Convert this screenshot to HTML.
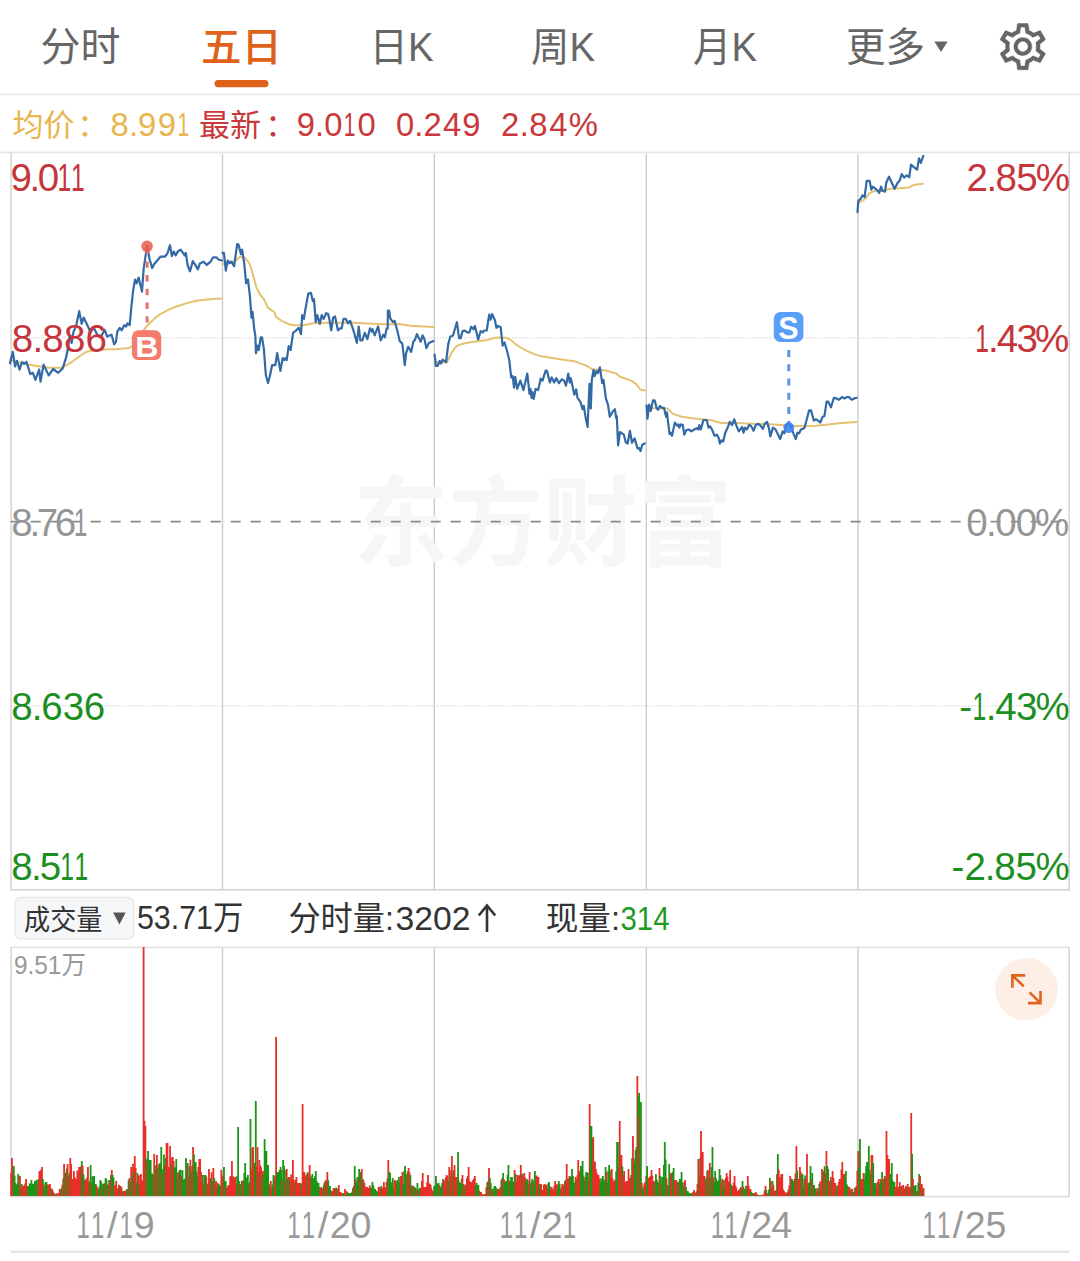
<!DOCTYPE html>
<html lang="zh-CN"><head><meta charset="utf-8"><title>五日</title>
<style>html,body{margin:0;padding:0;background:#fff}body{width:1080px;height:1261px;overflow:hidden}svg{display:block}</style></head>
<body>
<svg width="1080" height="1261" viewBox="0 0 1080 1261" font-family='"Liberation Sans", "Noto Sans CJK SC", sans-serif'>
<rect width="1080" height="1261" fill="#fff"/>
<text x="40.5" y="61" font-size="40" fill="#666" textLength="80" lengthAdjust="spacingAndGlyphs">分时</text>
<text x="201" y="61" font-size="40" fill="#e0621a" font-weight="500" textLength="81" lengthAdjust="spacingAndGlyphs">五日</text>
<text x="369.5" y="61" font-size="40" fill="#666" textLength="64" lengthAdjust="spacingAndGlyphs">日K</text>
<text x="531" y="61" font-size="40" fill="#666" textLength="64" lengthAdjust="spacingAndGlyphs">周K</text>
<text x="693" y="61" font-size="40" fill="#666" textLength="64" lengthAdjust="spacingAndGlyphs">月K</text>
<text x="846" y="61" font-size="40" fill="#666" textLength="79" lengthAdjust="spacingAndGlyphs">更多</text>
<path d="M934.3 41.5h13.4l-6.7 10.5z" fill="#666"/>
<rect x="214.5" y="80" width="54" height="7.2" rx="3.6" fill="#e0621a"/>
<path transform="translate(994.36,18.16) scale(2.37)" d="M19.43 12.98c.04-.32.07-.64.07-.98 0-.34-.03-.66-.07-.98l2.11-1.65c.19-.15.24-.42.12-.64l-2-3.46c-.09-.16-.26-.25-.44-.25-.06 0-.12.01-.17.03l-2.49 1c-.52-.4-1.08-.73-1.69-.98l-.38-2.650C14.46 2.180 14.25 2 14 2h-4c-.25 0-.46.18-.49.42l-.38 2.650c-.61.25-1.170.59-1.690.98l-2.490-1c-.06-.02-.12-.03-.18-.03-.17 0-.34.09-.43.25l-2 3.460c-.13.22-.07.49.12.64l2.110 1.650c-.04.32-.07.65-.07.98 0 .33.03.66.07.98l-2.110 1.650c-.19.15-.24.42-.12.64l2 3.460c.09.16.26.25.44.25.06 0 .12-.01.17-.03l2.490-1c.52.4 1.080.73 1.690.98l.38 2.650c.03.24.24.42.49.42h4c.25 0 .46-.18.49-.42l.38-2.650c.61-.25 1.170-.59 1.690-.98l2.490 1c.06.02.12.03.18.03.17 0 .34-.09.43-.25l2-3.460c.12-.22.07-.49-.12-.64l-2.110-1.650zm-1.980-1.710c.04.31.05.52.05.73 0 .21-.02.43-.05.73l-.14 1.130.89.7 1.080.84-.7 1.210-1.270-.51-1.040-.42-.9.68c-.43.32-.84.56-1.250.73l-1.060.43-.16 1.130-.2 1.350h-1.400l-.19-1.350-.16-1.130-1.060-.43c-.43-.18-.83-.41-1.230-.71l-.91-.7-1.060.43-1.270.51-.7-1.210 1.080-.84.89-.7-.14-1.130c-.03-.31-.05-.54-.05-.74s.02-.43.05-.73l.14-1.130-.89-.7-1.080-.84.7-1.210 1.270.51 1.040.42.9-.68c.43-.32.84-.56 1.250-.73l1.060-.43.16-1.130.2-1.350h1.390l.19 1.350.16 1.130 1.060.43c.43.18.83.41 1.230.71l.91.7 1.060-.43 1.270-.51.7 1.210-1.070.85-.89.7.14 1.130zM12 8c-2.210 0-4 1.790-4 4s1.790 4 4 4 4-1.790 4-4-1.790-4-4-4zm0 6c-1.100 0-2-.9-2-2s.9-2 2-2 2 .9 2 2-.9 2-2 2z" fill="#666" stroke="#fff" stroke-width="0.28"/>
<rect x="0" y="93.6" width="1080" height="1.6" fill="#e6e8ea"/>
<text x="12.5" y="135.5" font-size="31" fill="#e8b54e">均价</text>
<text x="77.3" y="135.5" font-size="31" fill="#e8b54e">：</text>
<text y="135.5" font-size="32.8" fill="#e8b54e"><tspan x="110.5 128.9 138.1 157.7">8.99</tspan><tspan x="177.4" textLength="11.7" lengthAdjust="spacingAndGlyphs">1</tspan></text>
<text x="199" y="135.5" font-size="31" fill="#c9383a">最新</text>
<text x="265.3" y="135.5" font-size="31" fill="#c9383a">：</text>
<text y="135.5" font-size="32.8" fill="#c9383a"><tspan x="296.8 315.1 324.3">9.0</tspan><tspan x="343.8" textLength="11.7" lengthAdjust="spacingAndGlyphs">1</tspan><tspan x="357.4">0</tspan></text>
<text y="135.5" font-size="32.8" fill="#c9383a"><tspan x="396.0 414.3 423.4 443.0 462.3">0.249</tspan></text>
<text y="135.5" font-size="32.8" fill="#c9383a"><tspan x="501.1 519.7 529.2 549.2 568.7">2.84%</tspan></text>
<rect x="0" y="151.7" width="1080" height="1.6" fill="#e3e4e6"/>
<rect x="10.299999999999999" y="889.0" width="1059.7" height="1.6" fill="#d4d4d4"/>
<rect x="10.30" y="152.5" width="1.6" height="737.3" fill="#d6d6d6"/>
<rect x="1068.40" y="152.5" width="1.6" height="737.3" fill="#d6d6d6"/>
<rect x="221.80" y="153.8" width="1.4" height="736.0" fill="#cbcbcb"/>
<rect x="433.60" y="153.8" width="1.4" height="736.0" fill="#cbcbcb"/>
<rect x="645.60" y="153.8" width="1.4" height="736.0" fill="#cbcbcb"/>
<rect x="857.30" y="153.8" width="1.4" height="736.0" fill="#cbcbcb"/>
<text x="353.5" y="558" font-size="98" font-weight="700" fill="#f6f6f6" textLength="379" lengthAdjust="spacingAndGlyphs" >东方财富</text>
<line x1="11.1" y1="337.8" x2="1069.2" y2="337.8" stroke="#d8d8d8" stroke-width="1.2" stroke-dasharray="1.3 1.7"/>
<line x1="11.1" y1="705.8" x2="1069.2" y2="705.8" stroke="#d8d8d8" stroke-width="1.2" stroke-dasharray="1.3 1.7"/>
<line x1="10.7" y1="521.6" x2="1069.2" y2="521.6" stroke="#8a8a8a" stroke-width="1.9" stroke-dasharray="10 10"/>
<polyline points="10.0,360.0 15.0,361.5 25.0,364.0 35.4,365.8 48.0,367.7 60.8,367.7 67.0,365.0 73.5,360.8 80.0,356.0 86.2,351.9 92.0,350.6 98.9,350.0 108.0,349.3 116.0,349.3 128.7,348.1 132.0,346.0 135.0,343.0 138.0,338.0 141.4,332.8 144.5,329.0 147.7,325.2 154.1,318.9 160.0,314.3 166.8,310.6 173.0,307.8 179.5,305.5 186.0,303.4 192.2,301.7 198.0,300.6 204.9,299.8 213.0,299.1 222.0,298.6" fill="none" stroke="#e6c171" stroke-width="2" stroke-linejoin="round" stroke-linecap="round"/>
<polyline points="222.6,264.0 229.0,263.5 236.0,260.5 239.8,256.7 244.9,257.9 249.3,263.0 252.5,273.2 256.3,287.1 260.1,294.7 263.9,299.2 267.7,307.4 274.7,312.5 276.0,317.0 281.7,320.8 288.0,323.9 294.4,325.2 303.2,325.2 313.4,323.3 328.0,322.7 353.4,322.7 383.9,324.2 399.1,323.9 410.5,325.8 433.4,327.1" fill="none" stroke="#e6c171" stroke-width="2" stroke-linejoin="round" stroke-linecap="round"/>
<polyline points="434.6,362.0 440.0,362.8 446.7,362.2 449.0,358.0 451.8,352.1 455.0,348.0 458.1,345.1 465.0,343.2 472.1,341.9 480.0,340.9 487.3,340.0 492.0,338.6 497.5,337.5 506.4,337.7 511.0,340.2 515.2,343.8 520.0,347.0 525.4,350.1 530.0,352.4 535.6,354.6 540.0,355.9 555.2,358.4 575.5,361.6 585.7,365.4 592.0,369.2 606.0,370.5 616.2,373.6 620.0,376.8 631.4,380.6 636.5,384.4 640.3,389.5 644.7,390.4" fill="none" stroke="#e6c171" stroke-width="2" stroke-linejoin="round" stroke-linecap="round"/>
<polyline points="646.6,407.0 651.1,407.9 667.6,408.5 672.7,413.6 681.5,416.8 696.8,418.7 709.5,420.0 722.2,423.1 734.9,423.1 752.0,423.8 771.0,424.2 790.1,425.7 802.8,426.3 815.5,425.7 828.2,424.4 840.9,423.1 856.7,421.9" fill="none" stroke="#e6c171" stroke-width="2" stroke-linejoin="round" stroke-linecap="round"/>
<polyline points="858.3,203.3 861.0,201.5 865.0,199.2 869.2,193.3 873.3,191.3 883.3,190.8 890.0,188.8 900.0,188.3 909.2,187.5 912.5,185.4 917.0,184.5 922.9,183.8" fill="none" stroke="#e6c171" stroke-width="2" stroke-linejoin="round" stroke-linecap="round"/>
<polyline points="10.0,363.3 12.8,351.9 15.1,366.5 17.0,360.8 19.5,369.6 22.0,362.0 24.0,363.9 26.5,362.0 30.3,374.1 32.9,372.8 35.4,379.8 39.2,369.6 40.5,381.7 43.6,364.6 48.7,375.4 53.2,369.0 58.2,372.8 62.7,368.4 65.9,358.2 67.8,349.3 69.7,335.4 71.6,343.0 73.5,331.6 76.0,326.5 79.2,311.2 81.7,323.9 83.6,317.6 86.2,322.7 90.6,332.2 93.8,327.8 97.6,335.4 101.4,336.0 104.6,329.7 107.1,336.6 111.6,334.7 114.1,344.3 116.0,341.7 117.3,331.6 119.8,327.8 121.7,330.3 124.3,325.2 126.2,326.5 127.4,323.3 129.7,325.2 131.2,308.7 133.1,290.9 135.0,279.5 136.6,283.3 138.6,277.6 142.0,291.6 143.7,268.1 147.1,245.9 149.6,259.2 152.2,268.1 154.1,264.3 157.9,259.8 160.4,256.7 164.9,256.7 167.4,253.5 170.0,245.2 171.9,256.0 173.8,251.6 175.7,255.4 178.2,250.9 180.7,249.7 184.6,255.4 185.8,252.9 187.7,265.5 190.0,271.3 192.8,261.1 195.3,264.9 197.9,269.4 199.8,263.6 203.6,261.7 206.8,264.9 210.6,261.7 213.1,257.3 216.3,257.3 218.8,259.8 222.0,260.5" fill="none" stroke="#336aa6" stroke-width="2.2" stroke-linejoin="round" stroke-linecap="round"/>
<polyline points="222.6,252.9 223.9,252.9 225.8,270.6 227.7,260.5 229.6,263.0 231.5,261.7 234.1,266.2 237.2,244.0 238.5,244.6 241.0,254.1 242.1,249.7 244.2,263.0 246.1,283.3 248.0,279.5 249.9,296.0 251.5,317.6 252.5,311.9 254.4,330.3 255.3,335.4 256.0,353.1 257.5,345.5 258.8,350.0 260.7,337.3 262.0,337.3 263.9,349.3 265.8,374.7 268.0,383.0 269.6,377.3 272.1,365.2 275.3,365.2 277.2,353.1 280.4,370.9 282.7,358.2 284.2,360.1 285.5,358.2 286.7,360.1 288.7,346.2 290.6,350.0 293.1,332.8 295.6,330.9 298.8,327.8 301.0,334.1 302.2,315.1 303.9,318.9 305.2,310.6 308.3,293.5 310.9,292.8 312.8,301.1 314.0,299.2 315.7,322.0 317.2,315.1 319.8,323.9 321.7,315.1 323.6,318.9 326.1,313.2 328.0,313.8 329.3,318.9 331.2,330.3 333.1,317.6 335.0,316.3 337.9,330.3 340.1,328.4 341.7,328.4 343.5,318.9 345.8,318.9 348.1,323.3 350.2,320.8 353.4,330.3 356.9,343.0 358.7,326.5 360.4,340.4 362.3,340.4 364.8,332.8 367.4,339.2 369.9,328.4 371.8,331.6 372.4,329.0 374.7,335.4 378.1,326.5 380.7,340.4 383.2,334.7 384.9,337.3 386.7,328.4 387.7,328.4 387.9,310.6 389.2,310.6 390.2,318.2 392.7,322.0 394.6,320.8 397.2,330.3 399.7,341.1 402.3,343.6 404.8,365.2 406.1,353.1 408.2,346.8 411.2,351.9 413.3,341.7 415.0,339.8 416.9,334.1 420.7,341.7 422.6,335.4 424.5,339.2 426.4,348.1 428.9,343.0 433.4,341.1" fill="none" stroke="#336aa6" stroke-width="2.2" stroke-linejoin="round" stroke-linecap="round"/>
<polyline points="434.6,354.6 435.9,366.0 437.6,366.0 439.7,360.9 441.0,363.5 442.6,359.7 446.1,362.2 448.2,344.4 450.2,336.8 453.0,335.5 456.9,322.2 459.1,338.1 460.7,338.1 462.6,331.1 464.5,330.5 467.3,332.4 469.5,332.4 471.1,326.7 473.4,329.2 474.9,326.0 478.2,339.4 480.7,331.1 482.9,332.4 484.1,330.5 486.7,330.5 489.2,314.6 490.5,319.7 492.1,314.0 494.9,320.3 496.5,327.9 498.1,326.0 500.7,327.3 502.6,345.7 504.5,342.5 507.0,350.8 509.2,359.7 511.2,377.4 512.7,376.2 514.0,387.6 515.2,376.8 517.2,388.9 520.3,380.6 523.5,390.1 527.3,373.6 529.5,393.9 530.5,388.9 531.5,397.8 532.4,392.0 533.7,399.0 535.6,388.9 538.1,390.1 540.0,382.0 540.6,378.7 542.5,380.6 545.7,370.5 547.0,371.1 549.9,382.5 551.7,377.4 554.2,382.5 556.2,378.1 559.0,383.2 561.8,379.3 564.1,380.6 566.0,385.7 568.2,373.6 569.8,382.5 570.7,378.1 572.8,387.6 574.3,394.6 576.2,389.5 577.5,397.8 580.6,402.2 582.5,409.2 583.8,406.0 585.7,418.1 587.6,427.0 589.5,383.8 590.8,408.5 591.8,380.0 593.6,369.8 594.6,376.2 596.5,371.1 597.8,373.0 599.9,367.3 602.2,383.2 603.5,380.0 606.0,399.0 607.9,404.1 609.8,416.8 612.6,411.7 614.9,409.2 616.2,418.1 616.8,416.2 618.1,445.4 620.0,432.0 623.8,434.6 625.7,442.2 627.6,443.5 629.9,430.8 632.0,442.8 634.6,438.4 637.5,448.5 639.0,447.9 640.5,451.1 642.2,444.7 644.7,443.5" fill="none" stroke="#336aa6" stroke-width="2.2" stroke-linejoin="round" stroke-linecap="round"/>
<polyline points="646.6,405.4 647.5,418.7 649.2,404.7 650.8,411.1 653.0,400.3 654.6,400.3 656.8,408.5 658.1,409.8 660.0,406.0 662.2,407.9 664.0,407.9 666.1,416.8 666.9,412.4 669.5,433.9 670.8,432.7 672.0,435.8 674.9,422.5 677.1,425.7 678.4,424.4 679.3,427.6 680.9,424.4 682.8,425.0 684.3,434.6 686.4,430.1 688.9,429.5 691.4,431.4 694.2,429.5 696.8,428.2 698.3,429.5 699.3,425.0 700.8,429.5 703.4,420.0 706.7,420.0 708.5,427.6 710.1,426.3 712.0,429.5 714.6,435.8 716.8,434.6 718.6,437.7 719.9,443.5 721.5,440.3 723.2,441.6 725.3,432.7 727.9,427.0 729.8,421.9 732.1,425.0 734.2,419.3 736.4,425.7 738.9,431.4 741.2,428.2 742.2,427.0 743.5,432.7 745.0,427.6 746.9,429.5 749.1,425.0 750.7,425.7 752.0,427.6 753.5,430.8 755.8,425.0 758.1,423.8 760.6,425.7 762.8,428.9 764.7,423.8 767.0,421.9 768.8,427.6 770.4,436.5 772.9,427.6 775.5,429.5 778.0,434.6 780.2,439.0 782.7,431.4 784.4,433.3 786.5,425.0 788.8,422.5 791.4,428.2 793.9,434.6 795.8,439.0 797.4,432.7 799.2,433.3 800.9,429.5 804.3,428.2 806.6,420.0 809.1,410.4 811.0,410.4 813.9,420.6 816.1,419.3 818.0,420.6 820.3,422.5 822.5,416.8 824.4,416.2 826.6,401.6 828.2,401.6 831.0,407.3 833.9,397.8 836.4,398.4 839.0,399.7 842.1,397.1 844.7,398.4 846.6,397.1 849.1,397.1 851.7,399.7 854.2,398.4 856.7,397.8" fill="none" stroke="#336aa6" stroke-width="2.2" stroke-linejoin="round" stroke-linecap="round"/>
<polyline points="857.5,212.1 858.3,200.8 860.4,199.2 862.5,195.4 864.6,197.1 866.7,180.8 869.6,180.8 871.3,189.6 872.5,186.7 875.0,188.3 877.1,190.0 879.2,192.9 881.0,186.7 882.5,190.8 885.0,191.7 886.3,182.5 889.0,176.7 891.7,182.5 894.6,188.8 897.5,182.9 899.6,180.8 901.7,174.2 904.2,177.5 906.7,175.4 909.3,177.1 911.0,164.6 913.8,167.1 917.1,169.6 919.0,158.3 920.8,162.9 923.3,155.8" fill="none" stroke="#336aa6" stroke-width="2.2" stroke-linejoin="round" stroke-linecap="round"/>
<line x1="147.1" y1="247.7" x2="147.1" y2="331" stroke="#e2736b" stroke-width="3" stroke-dasharray="6.4 7.3"/>
<circle cx="147.1" cy="246.3" r="5.8" fill="#ef5a4e" fill-opacity="0.85"/>
<rect x="131.9" y="330.3" width="29.3" height="29.8" rx="6.5" fill="#f47c6c"/>
<text x="135.2" y="356.9" font-size="29.5" font-weight="700" fill="#fff" textLength="23.2" lengthAdjust="spacingAndGlyphs">B</text>
<line x1="788.8" y1="350.1" x2="788.8" y2="423" stroke="#5b95e6" stroke-width="3" stroke-dasharray="7 7.2"/>
<circle cx="788.8" cy="427.6" r="5.4" fill="#3c84ee" fill-opacity="0.9"/>
<rect x="773.8" y="312.1" width="29.6" height="29.8" rx="6.5" fill="#5a9ff7"/>
<text x="778.3" y="339" font-size="30.5" font-weight="700" fill="#fff" textLength="20.4" lengthAdjust="spacingAndGlyphs">S</text>
<text y="191.2" font-size="38.5" fill="#c5353a"><tspan x="10.6 29.5 37.7">9.0</tspan><tspan x="57.6" textLength="13.7" lengthAdjust="spacingAndGlyphs">1</tspan><tspan x="71.1" textLength="13.7" lengthAdjust="spacingAndGlyphs">1</tspan></text>
<text y="352" font-size="38.5" fill="#c5353a"><tspan x="11.7 32.4 42.3 63.9 85.5">8.886</tspan></text>
<text y="536" font-size="38.5" fill="#959595"><tspan x="11.3 29.4 36.8 54.7">8.76</tspan><tspan x="73.7" textLength="13.7" lengthAdjust="spacingAndGlyphs">1</tspan></text>
<text y="720" font-size="38.5" fill="#1d8f22"><tspan x="11.3 31.7 41.2 62.7 83.8">8.636</tspan></text>
<text y="879.8" font-size="38.5" fill="#1d8f22"><tspan x="11.3 30.9 39.7">8.5</tspan><tspan x="60.3" textLength="13.7" lengthAdjust="spacingAndGlyphs">1</tspan><tspan x="74.4" textLength="13.7" lengthAdjust="spacingAndGlyphs">1</tspan></text>
<text y="191.2" font-size="38.5" fill="#c5353a"><tspan x="966.6 986.5 995.6 1016.3 1035.7">2.85%</tspan></text>
<text y="351.6" font-size="38.5" fill="#c5353a"><tspan x="975.2" textLength="13.7" lengthAdjust="spacingAndGlyphs">1</tspan><tspan x="988.0 996.8 1016.6 1034.9">.43%</tspan></text>
<text y="536.1" font-size="38.5" fill="#959595"><tspan x="966.3 986.1 995.2 1015.7 1034.9">0.00%</tspan></text>
<text y="720.1" font-size="38.5" fill="#1d8f22"><tspan x="959.2">-</tspan><tspan x="972.5" textLength="13.7" lengthAdjust="spacingAndGlyphs">1</tspan><tspan x="985.8 995.2 1016.0 1035.4">.43%</tspan></text>
<text y="879.9" font-size="38.5" fill="#1d8f22"><tspan x="951.4 964.6 984.8 994.3 1015.5 1035.4">-2.85%</tspan></text>
<rect x="14.9" y="897.3" width="118.7" height="41.7" rx="6" fill="#f6f7f9" stroke="#e4e6ea" stroke-width="1.2"/>
<text x="24" y="929.7" font-size="28" fill="#333" textLength="78.5" lengthAdjust="spacingAndGlyphs">成交量</text>
<path d="M113.1 912.5h12.6l-6.3 12z" fill="#555"/>
<text x="136.9" y="929.0" font-size="32.5" fill="#333" textLength="106.5" lengthAdjust="spacingAndGlyphs">53.71万</text>
<text x="288.4" y="930.0" font-size="32.5" fill="#333" textLength="105.5" lengthAdjust="spacingAndGlyphs">分时量:</text>
<text x="395.5" y="930.0" font-size="32.5" fill="#333" textLength="75" lengthAdjust="spacingAndGlyphs">3202</text>
<path d="M487 905.5V932M478.8 915.5L487 905.5L495.2 915.5" fill="none" stroke="#333" stroke-width="2.6" stroke-linejoin="miter"/>
<text x="545.7" y="930.0" font-size="32.5" fill="#333" textLength="74.3" lengthAdjust="spacingAndGlyphs">现量:</text>
<text x="620.5" y="930.0" font-size="32.5" fill="#1f9a22" textLength="49" lengthAdjust="spacingAndGlyphs">314</text>
<rect x="11.1" y="946.6" width="1058.1000000000001" height="1.6" fill="#e0e0e0"/>
<rect x="11.1" y="1195.8" width="1058.1000000000001" height="1.6" fill="#dcdcdc"/>
<rect x="10.30" y="947.4" width="1.6" height="249.2" fill="#d6d6d6"/>
<rect x="1068.40" y="947.4" width="1.6" height="249.2" fill="#d6d6d6"/>
<rect x="221.80" y="948.1999999999999" width="1.4" height="248.4" fill="#cbcbcb"/>
<rect x="433.60" y="948.1999999999999" width="1.4" height="248.4" fill="#cbcbcb"/>
<rect x="645.60" y="948.1999999999999" width="1.4" height="248.4" fill="#cbcbcb"/>
<rect x="857.30" y="948.1999999999999" width="1.4" height="248.4" fill="#cbcbcb"/>
<text x="13.9" y="974.2" font-size="26" fill="#999" textLength="72" lengthAdjust="spacingAndGlyphs">9.51万</text>
<defs><filter id="bl" x="-1%" y="-1%" width="102%" height="102%"><feGaussianBlur stdDeviation="0.55 0.3"/></filter></defs>
<g fill="none" stroke-width="1.8" filter="url(#bl)">
<path d="M11.10 1196.0v-23.3M11.98 1196.0v-38.0M12.87 1196.0v-26.8" stroke="#e82e28"/>
<path d="M13.75 1196.0v-30.0M14.63 1196.0v-20.6M15.52 1196.0v-12.9M16.40 1196.0v-11.8M17.28 1196.0v-11.4M18.17 1196.0v-22.0M19.05 1196.0v-13.9" stroke="#1e9416"/>
<path d="M19.93 1196.0v-20.0M20.82 1196.0v-9.2" stroke="#e82e28"/>
<path d="M21.70 1196.0v-12.0" stroke="#1e9416"/>
<path d="M22.58 1196.0v-10.0M23.47 1196.0v-10.6M24.35 1196.0v-10.0M25.23 1196.0v-12.6M26.12 1196.0v-17.0M27.00 1196.0v-8.8" stroke="#e82e28"/>
<path d="M27.88 1196.0v-10.0M28.77 1196.0v-8.9M29.65 1196.0v-12.5M30.53 1196.0v-11.6M31.42 1196.0v-16.0M32.30 1196.0v-7.5M33.18 1196.0v-12.2M34.07 1196.0v-9.2M34.95 1196.0v-15.0M35.83 1196.0v-11.6M36.72 1196.0v-16.3" stroke="#1e9416"/>
<path d="M37.60 1196.0v-12.3" stroke="#e82e28"/>
<path d="M38.48 1196.0v-16.9" stroke="#1e9416"/>
<path d="M39.37 1196.0v-25.0M40.25 1196.0v-21.7M41.13 1196.0v-26.2M42.02 1196.0v-29.0" stroke="#e82e28"/>
<path d="M42.90 1196.0v-16.9" stroke="#1e9416"/>
<path d="M43.78 1196.0v-11.7" stroke="#e82e28"/>
<path d="M44.67 1196.0v-8.9M45.55 1196.0v-14.0M46.43 1196.0v-14.0M47.32 1196.0v-11.1" stroke="#1e9416"/>
<path d="M48.20 1196.0v-11.5M49.08 1196.0v-9.9M49.97 1196.0v-12.0M50.85 1196.0v-7.6" stroke="#e82e28"/>
<path d="M51.73 1196.0v-7.4" stroke="#1e9416"/>
<path d="M52.62 1196.0v-6.0M53.50 1196.0v-3.7" stroke="#e82e28"/>
<path d="M54.38 1196.0v-2.0M55.27 1196.0v-2.3" stroke="#1e9416"/>
<path d="M56.15 1196.0v-2.0M57.03 1196.0v-2.8M57.92 1196.0v-2.8M58.80 1196.0v-2.5M59.68 1196.0v-7.0M60.57 1196.0v-5.6" stroke="#e82e28"/>
<path d="M61.45 1196.0v-7.7" stroke="#1e9416"/>
<path d="M62.33 1196.0v-11.1" stroke="#e82e28"/>
<path d="M63.22 1196.0v-17.5" stroke="#1e9416"/>
<path d="M64.10 1196.0v-32.0M64.98 1196.0v-15.7" stroke="#e82e28"/>
<path d="M65.87 1196.0v-23.2M66.75 1196.0v-27.5" stroke="#1e9416"/>
<path d="M67.63 1196.0v-32.0M68.52 1196.0v-19.8" stroke="#e82e28"/>
<path d="M69.40 1196.0v-22.8" stroke="#1e9416"/>
<path d="M70.28 1196.0v-38.0M71.17 1196.0v-31.8M72.05 1196.0v-16.9M72.93 1196.0v-16.1M73.82 1196.0v-25.0M74.70 1196.0v-19.0M75.58 1196.0v-11.9M76.47 1196.0v-17.1M77.35 1196.0v-25.6M78.23 1196.0v-20.1M79.12 1196.0v-29.0M80.00 1196.0v-24.4M80.88 1196.0v-29.5" stroke="#e82e28"/>
<path d="M81.77 1196.0v-35.0" stroke="#1e9416"/>
<path d="M82.65 1196.0v-30.5" stroke="#e82e28"/>
<path d="M83.53 1196.0v-21.6M84.42 1196.0v-16.3" stroke="#1e9416"/>
<path d="M85.30 1196.0v-15.3M86.18 1196.0v-17.1M87.07 1196.0v-18.6M87.95 1196.0v-29.0M88.83 1196.0v-13.3" stroke="#e82e28"/>
<path d="M89.72 1196.0v-15.1M90.60 1196.0v-31.0" stroke="#1e9416"/>
<path d="M91.48 1196.0v-13.5" stroke="#e82e28"/>
<path d="M92.37 1196.0v-19.7M93.25 1196.0v-13.1M94.13 1196.0v-20.0M95.02 1196.0v-10.5M95.90 1196.0v-12.0" stroke="#1e9416"/>
<path d="M96.78 1196.0v-10.0M97.67 1196.0v-7.7" stroke="#e82e28"/>
<path d="M98.55 1196.0v-6.5M99.43 1196.0v-9.2M100.32 1196.0v-16.0M101.20 1196.0v-14.2" stroke="#1e9416"/>
<path d="M102.08 1196.0v-7.7" stroke="#e82e28"/>
<path d="M102.97 1196.0v-12.1M103.85 1196.0v-12.5" stroke="#1e9416"/>
<path d="M104.73 1196.0v-12.6" stroke="#e82e28"/>
<path d="M105.62 1196.0v-18.0M106.50 1196.0v-16.5M107.38 1196.0v-11.5" stroke="#1e9416"/>
<path d="M108.27 1196.0v-11.2" stroke="#e82e28"/>
<path d="M109.15 1196.0v-15.9" stroke="#1e9416"/>
<path d="M110.03 1196.0v-14.4" stroke="#e82e28"/>
<path d="M110.92 1196.0v-21.0" stroke="#1e9416"/>
<path d="M111.80 1196.0v-26.0" stroke="#e82e28"/>
<path d="M112.68 1196.0v-21.1M113.57 1196.0v-18.6" stroke="#1e9416"/>
<path d="M114.45 1196.0v-10.9M115.33 1196.0v-10.6M116.22 1196.0v-15.0M117.10 1196.0v-6.4M117.98 1196.0v-7.5M118.87 1196.0v-11.3" stroke="#e82e28"/>
<path d="M119.75 1196.0v-10.3" stroke="#1e9416"/>
<path d="M120.63 1196.0v-10.0M121.52 1196.0v-8.8M122.40 1196.0v-4.8M123.28 1196.0v-4.2" stroke="#e82e28"/>
<path d="M124.17 1196.0v-5.2" stroke="#1e9416"/>
<path d="M125.05 1196.0v-5.2M125.93 1196.0v-5.0" stroke="#e82e28"/>
<path d="M126.82 1196.0v-6.9" stroke="#1e9416"/>
<path d="M127.70 1196.0v-6.5" stroke="#e82e28"/>
<path d="M128.58 1196.0v-15.7" stroke="#1e9416"/>
<path d="M129.47 1196.0v-17.9" stroke="#e82e28"/>
<path d="M130.35 1196.0v-14.0" stroke="#1e9416"/>
<path d="M131.23 1196.0v-29.0" stroke="#e82e28"/>
<path d="M132.12 1196.0v-19.8" stroke="#1e9416"/>
<path d="M133.00 1196.0v-32.3" stroke="#e82e28"/>
<path d="M133.88 1196.0v-24.0" stroke="#1e9416"/>
<path d="M134.77 1196.0v-40.0M135.65 1196.0v-28.0" stroke="#e82e28"/>
<path d="M136.53 1196.0v-13.8M137.42 1196.0v-23.0" stroke="#1e9416"/>
<path d="M138.30 1196.0v-20.5" stroke="#e82e28"/>
<path d="M139.18 1196.0v-11.7" stroke="#1e9416"/>
<path d="M140.07 1196.0v-20.9M140.95 1196.0v-22.0M141.83 1196.0v-15.8M142.72 1196.0v-13.0M143.60 1196.0v-249.0M144.48 1196.0v-75.3M145.37 1196.0v-70.0" stroke="#e82e28"/>
<path d="M146.25 1196.0v-36.9" stroke="#1e9416"/>
<path d="M147.13 1196.0v-34.5" stroke="#e82e28"/>
<path d="M148.02 1196.0v-45.0M148.90 1196.0v-36.2M149.78 1196.0v-22.7M150.67 1196.0v-36.0M151.55 1196.0v-21.2M152.43 1196.0v-22.5M153.32 1196.0v-20.9" stroke="#1e9416"/>
<path d="M154.20 1196.0v-42.0M155.08 1196.0v-26.1" stroke="#e82e28"/>
<path d="M155.97 1196.0v-30.7" stroke="#1e9416"/>
<path d="M156.85 1196.0v-41.0" stroke="#e82e28"/>
<path d="M157.73 1196.0v-28.0" stroke="#1e9416"/>
<path d="M158.62 1196.0v-31.0" stroke="#e82e28"/>
<path d="M159.50 1196.0v-32.7M160.38 1196.0v-32.0M161.27 1196.0v-49.0" stroke="#1e9416"/>
<path d="M162.15 1196.0v-22.5" stroke="#e82e28"/>
<path d="M163.03 1196.0v-27.0M163.92 1196.0v-41.4" stroke="#1e9416"/>
<path d="M164.80 1196.0v-31.6" stroke="#e82e28"/>
<path d="M165.68 1196.0v-37.9" stroke="#1e9416"/>
<path d="M166.57 1196.0v-53.0M167.45 1196.0v-53.0M168.33 1196.0v-26.0M169.22 1196.0v-29.2M170.10 1196.0v-50.0M170.98 1196.0v-38.8" stroke="#e82e28"/>
<path d="M171.87 1196.0v-31.5" stroke="#1e9416"/>
<path d="M172.75 1196.0v-39.0M173.63 1196.0v-35.0" stroke="#e82e28"/>
<path d="M174.52 1196.0v-28.7M175.40 1196.0v-26.4M176.28 1196.0v-37.0M177.17 1196.0v-23.3" stroke="#1e9416"/>
<path d="M178.05 1196.0v-22.4M178.93 1196.0v-24.4" stroke="#e82e28"/>
<path d="M179.82 1196.0v-26.3M180.70 1196.0v-26.0" stroke="#1e9416"/>
<path d="M181.58 1196.0v-20.0" stroke="#e82e28"/>
<path d="M182.47 1196.0v-25.7M183.35 1196.0v-16.2M184.23 1196.0v-16.4M185.12 1196.0v-17.5M186.00 1196.0v-38.0" stroke="#1e9416"/>
<path d="M186.88 1196.0v-30.1" stroke="#e82e28"/>
<path d="M187.77 1196.0v-33.0" stroke="#1e9416"/>
<path d="M188.65 1196.0v-18.5" stroke="#e82e28"/>
<path d="M189.53 1196.0v-29.6" stroke="#1e9416"/>
<path d="M190.42 1196.0v-36.3" stroke="#e82e28"/>
<path d="M191.30 1196.0v-24.4" stroke="#1e9416"/>
<path d="M192.18 1196.0v-30.1M193.07 1196.0v-49.0" stroke="#e82e28"/>
<path d="M193.95 1196.0v-41.8M194.83 1196.0v-21.1M195.72 1196.0v-34.0M196.60 1196.0v-24.4M197.48 1196.0v-19.3" stroke="#1e9416"/>
<path d="M198.37 1196.0v-29.1M199.25 1196.0v-37.0M200.13 1196.0v-37.0M201.02 1196.0v-24.0M201.90 1196.0v-13.9" stroke="#e82e28"/>
<path d="M202.78 1196.0v-21.1" stroke="#1e9416"/>
<path d="M203.67 1196.0v-12.1" stroke="#e82e28"/>
<path d="M204.55 1196.0v-21.0M205.43 1196.0v-21.0" stroke="#1e9416"/>
<path d="M206.32 1196.0v-19.4M207.20 1196.0v-12.2" stroke="#e82e28"/>
<path d="M208.08 1196.0v-12.0" stroke="#1e9416"/>
<path d="M208.97 1196.0v-27.0M209.85 1196.0v-15.9" stroke="#e82e28"/>
<path d="M210.73 1196.0v-18.1" stroke="#1e9416"/>
<path d="M211.62 1196.0v-23.8" stroke="#e82e28"/>
<path d="M212.50 1196.0v-14.6" stroke="#1e9416"/>
<path d="M213.38 1196.0v-28.0" stroke="#e82e28"/>
<path d="M214.27 1196.0v-17.8" stroke="#1e9416"/>
<path d="M215.15 1196.0v-10.7M216.03 1196.0v-15.0" stroke="#e82e28"/>
<path d="M216.92 1196.0v-7.9" stroke="#1e9416"/>
<path d="M217.80 1196.0v-13.0" stroke="#e82e28"/>
<path d="M218.68 1196.0v-11.9M219.57 1196.0v-9.2M220.45 1196.0v-10.6" stroke="#1e9416"/>
<path d="M221.33 1196.0v-26.0M222.22 1196.0v-18.1M223.10 1196.0v-20.3" stroke="#e82e28"/>
<path d="M223.98 1196.0v-29.0M224.87 1196.0v-14.7M225.75 1196.0v-15.1" stroke="#1e9416"/>
<path d="M226.63 1196.0v-8.7M227.52 1196.0v-6.3M228.40 1196.0v-11.0M229.28 1196.0v-11.1M230.17 1196.0v-19.4M231.05 1196.0v-19.9M231.93 1196.0v-35.0M232.82 1196.0v-19.8M233.70 1196.0v-15.7M234.58 1196.0v-18.5M235.47 1196.0v-19.0M236.35 1196.0v-11.9" stroke="#e82e28"/>
<path d="M237.23 1196.0v-20.0M238.12 1196.0v-69.0M239.00 1196.0v-14.8" stroke="#1e9416"/>
<path d="M239.88 1196.0v-12.0" stroke="#e82e28"/>
<path d="M240.77 1196.0v-11.2M241.65 1196.0v-15.0" stroke="#1e9416"/>
<path d="M242.53 1196.0v-15.6M243.42 1196.0v-15.0" stroke="#e82e28"/>
<path d="M244.30 1196.0v-22.9M245.18 1196.0v-33.0M246.07 1196.0v-18.6M246.95 1196.0v-11.4M247.83 1196.0v-21.0" stroke="#1e9416"/>
<path d="M248.72 1196.0v-11.7" stroke="#e82e28"/>
<path d="M249.60 1196.0v-14.0M250.48 1196.0v-77.0" stroke="#1e9416"/>
<path d="M251.37 1196.0v-27.2M252.25 1196.0v-48.0M253.13 1196.0v-48.9M254.02 1196.0v-32.6" stroke="#e82e28"/>
<path d="M254.90 1196.0v-32.9M255.78 1196.0v-95.0" stroke="#1e9416"/>
<path d="M256.67 1196.0v-29.8M257.55 1196.0v-49.0" stroke="#e82e28"/>
<path d="M258.43 1196.0v-24.2" stroke="#1e9416"/>
<path d="M259.32 1196.0v-36.0M260.20 1196.0v-30.8M261.08 1196.0v-29.0" stroke="#e82e28"/>
<path d="M261.97 1196.0v-19.6" stroke="#1e9416"/>
<path d="M262.85 1196.0v-25.0" stroke="#e82e28"/>
<path d="M263.73 1196.0v-21.8M264.62 1196.0v-57.0M265.50 1196.0v-36.3M266.38 1196.0v-45.0M267.27 1196.0v-22.0M268.15 1196.0v-31.0M269.03 1196.0v-11.7" stroke="#1e9416"/>
<path d="M269.92 1196.0v-10.4M270.80 1196.0v-15.0M271.68 1196.0v-7.9" stroke="#e82e28"/>
<path d="M272.57 1196.0v-11.4M273.45 1196.0v-21.0M274.33 1196.0v-17.9" stroke="#1e9416"/>
<path d="M275.22 1196.0v-19.9M276.10 1196.0v-159.0" stroke="#e82e28"/>
<path d="M276.98 1196.0v-22.3M277.87 1196.0v-24.0M278.75 1196.0v-16.5M279.63 1196.0v-26.0M280.52 1196.0v-29.0M281.40 1196.0v-25.9" stroke="#1e9416"/>
<path d="M282.28 1196.0v-16.1" stroke="#e82e28"/>
<path d="M283.17 1196.0v-36.0M284.05 1196.0v-30.0M284.93 1196.0v-25.7" stroke="#1e9416"/>
<path d="M285.82 1196.0v-15.2M286.70 1196.0v-27.0" stroke="#e82e28"/>
<path d="M287.58 1196.0v-17.4M288.47 1196.0v-19.1" stroke="#1e9416"/>
<path d="M289.35 1196.0v-19.0" stroke="#e82e28"/>
<path d="M290.23 1196.0v-16.3" stroke="#1e9416"/>
<path d="M291.12 1196.0v-21.4M292.00 1196.0v-18.1M292.88 1196.0v-36.0M293.77 1196.0v-15.9" stroke="#e82e28"/>
<path d="M294.65 1196.0v-13.3" stroke="#1e9416"/>
<path d="M295.53 1196.0v-16.2M296.42 1196.0v-19.0M297.30 1196.0v-13.0M298.18 1196.0v-10.7M299.07 1196.0v-13.0M299.95 1196.0v-13.0" stroke="#e82e28"/>
<path d="M300.83 1196.0v-12.7" stroke="#1e9416"/>
<path d="M301.72 1196.0v-10.5M302.60 1196.0v-92.0M303.48 1196.0v-21.5M304.37 1196.0v-24.0M305.25 1196.0v-20.5M306.13 1196.0v-12.8M307.02 1196.0v-22.5" stroke="#e82e28"/>
<path d="M307.90 1196.0v-23.7" stroke="#1e9416"/>
<path d="M308.78 1196.0v-21.0M309.67 1196.0v-31.0M310.55 1196.0v-18.5" stroke="#e82e28"/>
<path d="M311.43 1196.0v-19.7M312.32 1196.0v-22.0M313.20 1196.0v-17.7M314.08 1196.0v-12.4M314.97 1196.0v-20.0M315.85 1196.0v-25.0M316.73 1196.0v-14.9M317.62 1196.0v-7.6M318.50 1196.0v-13.0M319.38 1196.0v-8.9" stroke="#1e9416"/>
<path d="M320.27 1196.0v-8.0M321.15 1196.0v-9.0M322.03 1196.0v-7.2M322.92 1196.0v-7.7" stroke="#e82e28"/>
<path d="M323.80 1196.0v-11.2M324.68 1196.0v-14.0" stroke="#1e9416"/>
<path d="M325.57 1196.0v-15.8M326.45 1196.0v-9.7M327.33 1196.0v-24.0" stroke="#e82e28"/>
<path d="M328.22 1196.0v-15.8M329.10 1196.0v-9.6M329.98 1196.0v-10.0" stroke="#1e9416"/>
<path d="M330.87 1196.0v-5.3" stroke="#e82e28"/>
<path d="M331.75 1196.0v-5.1" stroke="#1e9416"/>
<path d="M332.63 1196.0v-4.5M333.52 1196.0v-8.0M334.40 1196.0v-7.7M335.28 1196.0v-7.7" stroke="#e82e28"/>
<path d="M336.17 1196.0v-8.5M337.05 1196.0v-5.7" stroke="#1e9416"/>
<path d="M337.93 1196.0v-7.4M338.82 1196.0v-11.0M339.70 1196.0v-3.5M340.58 1196.0v-3.9M341.47 1196.0v-3.0M342.35 1196.0v-2.0" stroke="#e82e28"/>
<path d="M343.23 1196.0v-3.1M344.12 1196.0v-2.8" stroke="#1e9416"/>
<path d="M345.00 1196.0v-7.0M345.88 1196.0v-5.0M346.77 1196.0v-4.5" stroke="#e82e28"/>
<path d="M347.65 1196.0v-3.6M348.53 1196.0v-3.0M349.42 1196.0v-1.9M350.30 1196.0v-2.8M351.18 1196.0v-3.0M352.07 1196.0v-4.2M352.95 1196.0v-7.9" stroke="#1e9416"/>
<path d="M353.83 1196.0v-10.1" stroke="#e82e28"/>
<path d="M354.72 1196.0v-30.0" stroke="#1e9416"/>
<path d="M355.60 1196.0v-16.4" stroke="#e82e28"/>
<path d="M356.48 1196.0v-13.6M357.37 1196.0v-19.0M358.25 1196.0v-15.6M359.13 1196.0v-27.0" stroke="#1e9416"/>
<path d="M360.02 1196.0v-17.2" stroke="#e82e28"/>
<path d="M360.90 1196.0v-24.1" stroke="#1e9416"/>
<path d="M361.78 1196.0v-27.0" stroke="#e82e28"/>
<path d="M362.67 1196.0v-17.0" stroke="#1e9416"/>
<path d="M363.55 1196.0v-15.8M364.43 1196.0v-13.0M365.32 1196.0v-9.4M366.20 1196.0v-8.5M367.08 1196.0v-9.0M367.97 1196.0v-8.0M368.85 1196.0v-6.3M369.73 1196.0v-10.5" stroke="#e82e28"/>
<path d="M370.62 1196.0v-8.5" stroke="#1e9416"/>
<path d="M371.50 1196.0v-8.0" stroke="#e82e28"/>
<path d="M372.38 1196.0v-14.0M373.27 1196.0v-10.7M374.15 1196.0v-7.2M375.03 1196.0v-7.0M375.92 1196.0v-5.4M376.80 1196.0v-4.2M377.68 1196.0v-4.6" stroke="#1e9416"/>
<path d="M378.57 1196.0v-9.0M379.45 1196.0v-9.0M380.33 1196.0v-7.2" stroke="#e82e28"/>
<path d="M381.22 1196.0v-10.1" stroke="#1e9416"/>
<path d="M382.10 1196.0v-8.2M382.98 1196.0v-7.1M383.87 1196.0v-14.0M384.75 1196.0v-8.7M385.63 1196.0v-8.0M386.52 1196.0v-14.0" stroke="#e82e28"/>
<path d="M387.40 1196.0v-17.6" stroke="#1e9416"/>
<path d="M388.28 1196.0v-36.0" stroke="#e82e28"/>
<path d="M389.17 1196.0v-24.2M390.05 1196.0v-23.0M390.93 1196.0v-13.7M391.82 1196.0v-12.2M392.70 1196.0v-18.0M393.58 1196.0v-8.2" stroke="#1e9416"/>
<path d="M394.47 1196.0v-16.0M395.35 1196.0v-15.3M396.23 1196.0v-12.0" stroke="#e82e28"/>
<path d="M397.12 1196.0v-15.7M398.00 1196.0v-10.8M398.88 1196.0v-19.0M399.77 1196.0v-13.2" stroke="#1e9416"/>
<path d="M400.65 1196.0v-19.9M401.53 1196.0v-20.1M402.42 1196.0v-24.0" stroke="#e82e28"/>
<path d="M403.30 1196.0v-12.0M404.18 1196.0v-25.1M405.07 1196.0v-30.0M405.95 1196.0v-21.9" stroke="#1e9416"/>
<path d="M406.83 1196.0v-18.8" stroke="#e82e28"/>
<path d="M407.72 1196.0v-24.7" stroke="#1e9416"/>
<path d="M408.60 1196.0v-28.0M409.48 1196.0v-23.8" stroke="#e82e28"/>
<path d="M410.37 1196.0v-21.0M411.25 1196.0v-9.2" stroke="#1e9416"/>
<path d="M412.13 1196.0v-10.5M413.02 1196.0v-10.0" stroke="#e82e28"/>
<path d="M413.90 1196.0v-9.6M414.78 1196.0v-8.6M415.67 1196.0v-8.0" stroke="#1e9416"/>
<path d="M416.55 1196.0v-5.8" stroke="#e82e28"/>
<path d="M417.43 1196.0v-13.0" stroke="#1e9416"/>
<path d="M418.32 1196.0v-5.6" stroke="#e82e28"/>
<path d="M419.20 1196.0v-7.0M420.08 1196.0v-8.3" stroke="#1e9416"/>
<path d="M420.97 1196.0v-7.8M421.85 1196.0v-14.9M422.73 1196.0v-23.0M423.62 1196.0v-8.9M424.50 1196.0v-9.1M425.38 1196.0v-9.0M426.27 1196.0v-9.1M427.15 1196.0v-13.8M428.03 1196.0v-21.0M428.92 1196.0v-10.0M429.80 1196.0v-12.5M430.68 1196.0v-11.0M431.57 1196.0v-7.5M432.45 1196.0v-3.6M433.33 1196.0v-5.0" stroke="#e82e28"/>
<path d="M434.22 1196.0v-10.3M435.10 1196.0v-9.4M435.98 1196.0v-20.0M436.87 1196.0v-12.5M437.75 1196.0v-10.4M438.63 1196.0v-13.0" stroke="#1e9416"/>
<path d="M439.52 1196.0v-10.7" stroke="#e82e28"/>
<path d="M440.40 1196.0v-8.2M441.28 1196.0v-9.6M442.17 1196.0v-12.9M443.05 1196.0v-17.0" stroke="#1e9416"/>
<path d="M443.93 1196.0v-15.4M444.82 1196.0v-13.4M445.70 1196.0v-18.6M446.58 1196.0v-21.0M447.47 1196.0v-19.9" stroke="#e82e28"/>
<path d="M448.35 1196.0v-14.6" stroke="#1e9416"/>
<path d="M449.23 1196.0v-29.0" stroke="#e82e28"/>
<path d="M450.12 1196.0v-19.6" stroke="#1e9416"/>
<path d="M451.00 1196.0v-25.7M451.88 1196.0v-40.0M452.77 1196.0v-20.3" stroke="#e82e28"/>
<path d="M453.65 1196.0v-25.8" stroke="#1e9416"/>
<path d="M454.53 1196.0v-31.0M455.42 1196.0v-12.0M456.30 1196.0v-19.0M457.18 1196.0v-18.8" stroke="#e82e28"/>
<path d="M458.07 1196.0v-44.0M458.95 1196.0v-14.8M459.83 1196.0v-13.0M460.72 1196.0v-7.7M461.60 1196.0v-17.2" stroke="#1e9416"/>
<path d="M462.48 1196.0v-21.0" stroke="#e82e28"/>
<path d="M463.37 1196.0v-11.7" stroke="#1e9416"/>
<path d="M464.25 1196.0v-9.0M465.13 1196.0v-11.6" stroke="#e82e28"/>
<path d="M466.02 1196.0v-9.3" stroke="#1e9416"/>
<path d="M466.90 1196.0v-17.7M467.78 1196.0v-20.3M468.67 1196.0v-29.0M469.55 1196.0v-14.7M470.43 1196.0v-9.9M471.32 1196.0v-14.0M472.20 1196.0v-9.2M473.08 1196.0v-16.0M473.97 1196.0v-17.6M474.85 1196.0v-20.0" stroke="#e82e28"/>
<path d="M475.73 1196.0v-10.8M476.62 1196.0v-12.9M477.50 1196.0v-6.1M478.38 1196.0v-11.0" stroke="#1e9416"/>
<path d="M479.27 1196.0v-5.4" stroke="#e82e28"/>
<path d="M480.15 1196.0v-3.6" stroke="#1e9416"/>
<path d="M481.03 1196.0v-4.0M481.92 1196.0v-2.0" stroke="#e82e28"/>
<path d="M482.80 1196.0v-1.3" stroke="#1e9416"/>
<path d="M483.68 1196.0v-1.7M484.57 1196.0v-0.9M485.45 1196.0v-2.0M486.33 1196.0v-8.7" stroke="#e82e28"/>
<path d="M487.22 1196.0v-13.8" stroke="#1e9416"/>
<path d="M488.10 1196.0v-14.8M488.98 1196.0v-28.0" stroke="#e82e28"/>
<path d="M489.87 1196.0v-18.3M490.75 1196.0v-13.0" stroke="#1e9416"/>
<path d="M491.63 1196.0v-7.2" stroke="#e82e28"/>
<path d="M492.52 1196.0v-7.2" stroke="#1e9416"/>
<path d="M493.40 1196.0v-5.0" stroke="#e82e28"/>
<path d="M494.28 1196.0v-9.5M495.17 1196.0v-10.0M496.05 1196.0v-8.4" stroke="#1e9416"/>
<path d="M496.93 1196.0v-4.8" stroke="#e82e28"/>
<path d="M497.82 1196.0v-7.2" stroke="#1e9416"/>
<path d="M498.70 1196.0v-7.0M499.58 1196.0v-6.6M500.47 1196.0v-9.2" stroke="#e82e28"/>
<path d="M501.35 1196.0v-16.0" stroke="#1e9416"/>
<path d="M502.23 1196.0v-17.9" stroke="#e82e28"/>
<path d="M503.12 1196.0v-23.0" stroke="#1e9416"/>
<path d="M504.00 1196.0v-16.8" stroke="#e82e28"/>
<path d="M504.88 1196.0v-12.9M505.77 1196.0v-15.0M506.65 1196.0v-12.3M507.53 1196.0v-21.1M508.42 1196.0v-31.0" stroke="#1e9416"/>
<path d="M509.30 1196.0v-15.4" stroke="#e82e28"/>
<path d="M510.18 1196.0v-14.0M511.07 1196.0v-19.0M511.95 1196.0v-19.0M512.83 1196.0v-10.2M513.72 1196.0v-14.4" stroke="#1e9416"/>
<path d="M514.60 1196.0v-26.0" stroke="#e82e28"/>
<path d="M515.48 1196.0v-22.1" stroke="#1e9416"/>
<path d="M516.37 1196.0v-13.4M517.25 1196.0v-21.0M518.13 1196.0v-11.5M519.02 1196.0v-20.7M519.90 1196.0v-16.1M520.78 1196.0v-31.0M521.67 1196.0v-22.1" stroke="#e82e28"/>
<path d="M522.55 1196.0v-22.2" stroke="#1e9416"/>
<path d="M523.43 1196.0v-19.5M524.32 1196.0v-23.0M525.20 1196.0v-18.4" stroke="#e82e28"/>
<path d="M526.08 1196.0v-14.2M526.97 1196.0v-17.0M527.85 1196.0v-15.4" stroke="#1e9416"/>
<path d="M528.73 1196.0v-12.1M529.62 1196.0v-24.0" stroke="#e82e28"/>
<path d="M530.50 1196.0v-11.6M531.38 1196.0v-14.3M532.27 1196.0v-17.0" stroke="#1e9416"/>
<path d="M533.15 1196.0v-12.8" stroke="#e82e28"/>
<path d="M534.03 1196.0v-15.8M534.92 1196.0v-25.0M535.80 1196.0v-19.9" stroke="#1e9416"/>
<path d="M536.68 1196.0v-20.4M537.57 1196.0v-19.0M538.45 1196.0v-19.0" stroke="#e82e28"/>
<path d="M539.33 1196.0v-10.9M540.22 1196.0v-12.0" stroke="#1e9416"/>
<path d="M541.10 1196.0v-12.0M541.98 1196.0v-5.6M542.87 1196.0v-6.1M543.75 1196.0v-11.2M544.63 1196.0v-12.0M545.52 1196.0v-11.2M546.40 1196.0v-11.2M547.28 1196.0v-7.6" stroke="#e82e28"/>
<path d="M548.17 1196.0v-12.5M549.05 1196.0v-14.0M549.93 1196.0v-9.4" stroke="#1e9416"/>
<path d="M550.82 1196.0v-6.1M551.70 1196.0v-9.0M552.58 1196.0v-5.4M553.47 1196.0v-6.8M554.35 1196.0v-10.4M555.23 1196.0v-15.0M556.12 1196.0v-6.8M557.00 1196.0v-11.8" stroke="#e82e28"/>
<path d="M557.88 1196.0v-9.1M558.77 1196.0v-15.0M559.65 1196.0v-12.3M560.53 1196.0v-6.6" stroke="#1e9416"/>
<path d="M561.42 1196.0v-8.4M562.30 1196.0v-12.0M563.18 1196.0v-11.3M564.07 1196.0v-10.0M564.95 1196.0v-15.0" stroke="#e82e28"/>
<path d="M565.83 1196.0v-16.3" stroke="#1e9416"/>
<path d="M566.72 1196.0v-32.0M567.60 1196.0v-17.4M568.48 1196.0v-15.5M569.37 1196.0v-20.0" stroke="#e82e28"/>
<path d="M570.25 1196.0v-19.5M571.13 1196.0v-15.5M572.02 1196.0v-27.0M572.90 1196.0v-20.2M573.78 1196.0v-10.3M574.67 1196.0v-13.6" stroke="#1e9416"/>
<path d="M575.55 1196.0v-19.0" stroke="#e82e28"/>
<path d="M576.43 1196.0v-16.6" stroke="#1e9416"/>
<path d="M577.32 1196.0v-20.7M578.20 1196.0v-36.0M579.08 1196.0v-15.6M579.97 1196.0v-24.7" stroke="#e82e28"/>
<path d="M580.85 1196.0v-30.0M581.73 1196.0v-16.1M582.62 1196.0v-35.0M583.50 1196.0v-20.4M584.38 1196.0v-15.4" stroke="#1e9416"/>
<path d="M585.27 1196.0v-18.9" stroke="#e82e28"/>
<path d="M586.15 1196.0v-24.0M587.03 1196.0v-13.9M587.92 1196.0v-23.5" stroke="#1e9416"/>
<path d="M588.80 1196.0v-15.1M589.68 1196.0v-92.0" stroke="#e82e28"/>
<path d="M590.57 1196.0v-70.0M591.45 1196.0v-70.0M592.33 1196.0v-57.7" stroke="#1e9416"/>
<path d="M593.22 1196.0v-59.0M594.10 1196.0v-32.7M594.98 1196.0v-34.6M595.87 1196.0v-27.0M596.75 1196.0v-23.0M597.63 1196.0v-20.4M598.52 1196.0v-21.0M599.40 1196.0v-17.6" stroke="#e82e28"/>
<path d="M600.28 1196.0v-13.5M601.17 1196.0v-17.7M602.05 1196.0v-11.3M602.93 1196.0v-20.0M603.82 1196.0v-16.3M604.70 1196.0v-13.1M605.58 1196.0v-29.0" stroke="#1e9416"/>
<path d="M606.47 1196.0v-23.9" stroke="#e82e28"/>
<path d="M607.35 1196.0v-14.1M608.23 1196.0v-25.4M609.12 1196.0v-31.0M610.00 1196.0v-25.4" stroke="#1e9416"/>
<path d="M610.88 1196.0v-21.1M611.77 1196.0v-27.0M612.65 1196.0v-17.6M613.53 1196.0v-12.8M614.42 1196.0v-15.0M615.30 1196.0v-16.2" stroke="#e82e28"/>
<path d="M616.18 1196.0v-24.4M617.07 1196.0v-54.0M617.95 1196.0v-54.0" stroke="#1e9416"/>
<path d="M618.83 1196.0v-28.7M619.72 1196.0v-75.0M620.60 1196.0v-32.8M621.48 1196.0v-41.0" stroke="#e82e28"/>
<path d="M622.37 1196.0v-29.5" stroke="#1e9416"/>
<path d="M623.25 1196.0v-20.2M624.13 1196.0v-25.0M625.02 1196.0v-14.3M625.90 1196.0v-8.8M626.78 1196.0v-15.0M627.67 1196.0v-10.5M628.55 1196.0v-27.0M629.43 1196.0v-17.9M630.32 1196.0v-17.5M631.20 1196.0v-21.0" stroke="#e82e28"/>
<path d="M632.08 1196.0v-38.1" stroke="#1e9416"/>
<path d="M632.97 1196.0v-60.0M633.85 1196.0v-37.8" stroke="#e82e28"/>
<path d="M634.73 1196.0v-34.1M635.62 1196.0v-46.0M636.50 1196.0v-49.0" stroke="#1e9416"/>
<path d="M637.38 1196.0v-120.0" stroke="#e82e28"/>
<path d="M638.27 1196.0v-100.1M639.15 1196.0v-103.0" stroke="#1e9416"/>
<path d="M640.03 1196.0v-79.2" stroke="#e82e28"/>
<path d="M640.92 1196.0v-94.0" stroke="#1e9416"/>
<path d="M641.80 1196.0v-13.0" stroke="#e82e28"/>
<path d="M642.68 1196.0v-7.2M643.57 1196.0v-9.4" stroke="#1e9416"/>
<path d="M644.45 1196.0v-12.5M645.33 1196.0v-14.0M646.22 1196.0v-20.0" stroke="#e82e28"/>
<path d="M647.10 1196.0v-30.0M647.98 1196.0v-12.4" stroke="#1e9416"/>
<path d="M648.87 1196.0v-18.0M649.75 1196.0v-19.0M650.63 1196.0v-20.0M651.52 1196.0v-26.0M652.40 1196.0v-20.3" stroke="#e82e28"/>
<path d="M653.28 1196.0v-13.6" stroke="#1e9416"/>
<path d="M654.17 1196.0v-15.0M655.05 1196.0v-10.0" stroke="#e82e28"/>
<path d="M655.93 1196.0v-22.0M656.82 1196.0v-16.2M657.70 1196.0v-11.5M658.58 1196.0v-13.8" stroke="#1e9416"/>
<path d="M659.47 1196.0v-28.0" stroke="#e82e28"/>
<path d="M660.35 1196.0v-20.2" stroke="#1e9416"/>
<path d="M661.23 1196.0v-11.9" stroke="#e82e28"/>
<path d="M662.12 1196.0v-19.0M663.00 1196.0v-15.2M663.88 1196.0v-31.1M664.77 1196.0v-54.0M665.65 1196.0v-36.6" stroke="#1e9416"/>
<path d="M666.53 1196.0v-17.8" stroke="#e82e28"/>
<path d="M667.42 1196.0v-11.0" stroke="#1e9416"/>
<path d="M668.30 1196.0v-10.4" stroke="#e82e28"/>
<path d="M669.18 1196.0v-32.0M670.07 1196.0v-22.8" stroke="#1e9416"/>
<path d="M670.95 1196.0v-21.7M671.83 1196.0v-23.0" stroke="#e82e28"/>
<path d="M672.72 1196.0v-24.1M673.60 1196.0v-28.0" stroke="#1e9416"/>
<path d="M674.48 1196.0v-15.9M675.37 1196.0v-14.1M676.25 1196.0v-16.0M677.13 1196.0v-13.3" stroke="#e82e28"/>
<path d="M678.02 1196.0v-14.2" stroke="#1e9416"/>
<path d="M678.90 1196.0v-13.0" stroke="#e82e28"/>
<path d="M679.78 1196.0v-17.0M680.67 1196.0v-15.5M681.55 1196.0v-24.0M682.43 1196.0v-13.6M683.32 1196.0v-9.5" stroke="#1e9416"/>
<path d="M684.20 1196.0v-14.0M685.08 1196.0v-16.0" stroke="#e82e28"/>
<path d="M685.97 1196.0v-9.0M686.85 1196.0v-4.4M687.73 1196.0v-5.0M688.62 1196.0v-3.4M689.50 1196.0v-1.7M690.38 1196.0v-3.0M691.27 1196.0v-1.8M692.15 1196.0v-2.5" stroke="#1e9416"/>
<path d="M693.03 1196.0v-4.1M693.92 1196.0v-6.0M694.80 1196.0v-3.4M695.68 1196.0v-3.0" stroke="#e82e28"/>
<path d="M696.57 1196.0v-4.8" stroke="#1e9416"/>
<path d="M697.45 1196.0v-12.2M698.33 1196.0v-37.0M699.22 1196.0v-21.2" stroke="#e82e28"/>
<path d="M700.10 1196.0v-37.7" stroke="#1e9416"/>
<path d="M700.98 1196.0v-65.0M701.87 1196.0v-32.9M702.75 1196.0v-44.0M703.63 1196.0v-16.4M704.52 1196.0v-20.0M705.40 1196.0v-15.5" stroke="#e82e28"/>
<path d="M706.28 1196.0v-18.1M707.17 1196.0v-25.0" stroke="#1e9416"/>
<path d="M708.05 1196.0v-25.9" stroke="#e82e28"/>
<path d="M708.93 1196.0v-17.6" stroke="#1e9416"/>
<path d="M709.82 1196.0v-33.0M710.70 1196.0v-18.2" stroke="#e82e28"/>
<path d="M711.58 1196.0v-28.7M712.47 1196.0v-49.0" stroke="#1e9416"/>
<path d="M713.35 1196.0v-18.7" stroke="#e82e28"/>
<path d="M714.23 1196.0v-13.6M715.12 1196.0v-25.0M716.00 1196.0v-18.0M716.88 1196.0v-15.0M717.77 1196.0v-10.0M718.65 1196.0v-15.8M719.53 1196.0v-27.0M720.42 1196.0v-20.8" stroke="#1e9416"/>
<path d="M721.30 1196.0v-12.9M722.18 1196.0v-17.0" stroke="#e82e28"/>
<path d="M723.07 1196.0v-8.4M723.95 1196.0v-16.1M724.83 1196.0v-9.3" stroke="#1e9416"/>
<path d="M725.72 1196.0v-17.9M726.60 1196.0v-23.0M727.48 1196.0v-19.6M728.37 1196.0v-13.8M729.25 1196.0v-14.4M730.13 1196.0v-26.0" stroke="#e82e28"/>
<path d="M731.02 1196.0v-11.6M731.90 1196.0v-10.0" stroke="#1e9416"/>
<path d="M732.78 1196.0v-9.0M733.67 1196.0v-13.2M734.55 1196.0v-20.0M735.43 1196.0v-10.4M736.32 1196.0v-8.4M737.20 1196.0v-5.0M738.08 1196.0v-3.3M738.97 1196.0v-5.9M739.85 1196.0v-7.0M740.73 1196.0v-9.0" stroke="#e82e28"/>
<path d="M741.62 1196.0v-7.6M742.50 1196.0v-15.0" stroke="#1e9416"/>
<path d="M743.38 1196.0v-9.3" stroke="#e82e28"/>
<path d="M744.27 1196.0v-7.1M745.15 1196.0v-6.0M746.03 1196.0v-10.2M746.92 1196.0v-9.5" stroke="#1e9416"/>
<path d="M747.80 1196.0v-20.0M748.68 1196.0v-10.6M749.57 1196.0v-7.0M750.45 1196.0v-7.0" stroke="#e82e28"/>
<path d="M751.33 1196.0v-4.1M752.22 1196.0v-2.8" stroke="#1e9416"/>
<path d="M753.10 1196.0v-3.0" stroke="#e82e28"/>
<path d="M753.98 1196.0v-2.7M754.87 1196.0v-2.4" stroke="#1e9416"/>
<path d="M755.75 1196.0v-4.0M756.63 1196.0v-2.5M757.52 1196.0v-1.5" stroke="#e82e28"/>
<path d="M758.40 1196.0v-1.0" stroke="#1e9416"/>
<path d="M759.28 1196.0v-0.8M760.17 1196.0v-1.0" stroke="#e82e28"/>
<path d="M761.05 1196.0v-0.8" stroke="#1e9416"/>
<path d="M761.93 1196.0v-0.8M762.82 1196.0v-1.0M763.70 1196.0v-1.8M764.58 1196.0v-5.2M765.47 1196.0v-10.0" stroke="#e82e28"/>
<path d="M766.35 1196.0v-6.2" stroke="#1e9416"/>
<path d="M767.23 1196.0v-2.2M768.12 1196.0v-3.0" stroke="#e82e28"/>
<path d="M769.00 1196.0v-6.6M769.88 1196.0v-18.0" stroke="#1e9416"/>
<path d="M770.77 1196.0v-15.0M771.65 1196.0v-7.8" stroke="#e82e28"/>
<path d="M772.53 1196.0v-15.0" stroke="#1e9416"/>
<path d="M773.42 1196.0v-11.1M774.30 1196.0v-4.7M775.18 1196.0v-5.0M776.07 1196.0v-6.0M776.95 1196.0v-21.8" stroke="#e82e28"/>
<path d="M777.83 1196.0v-42.0" stroke="#1e9416"/>
<path d="M778.72 1196.0v-26.2M779.60 1196.0v-19.0M780.48 1196.0v-15.3M781.37 1196.0v-22.0M782.25 1196.0v-22.0M783.13 1196.0v-6.6M784.02 1196.0v-5.0M784.90 1196.0v-4.0M785.78 1196.0v-2.8M786.67 1196.0v-1.9M787.55 1196.0v-4.0" stroke="#e82e28"/>
<path d="M788.43 1196.0v-6.5" stroke="#1e9416"/>
<path d="M789.32 1196.0v-10.4M790.20 1196.0v-20.0M791.08 1196.0v-17.3" stroke="#e82e28"/>
<path d="M791.97 1196.0v-17.0M792.85 1196.0v-14.9M793.73 1196.0v-7.9M794.62 1196.0v-17.0" stroke="#1e9416"/>
<path d="M795.50 1196.0v-22.4M796.38 1196.0v-50.0" stroke="#e82e28"/>
<path d="M797.27 1196.0v-25.5" stroke="#1e9416"/>
<path d="M798.15 1196.0v-17.0M799.03 1196.0v-15.1M799.92 1196.0v-29.0M800.80 1196.0v-23.9" stroke="#e82e28"/>
<path d="M801.68 1196.0v-21.3M802.57 1196.0v-22.0M803.45 1196.0v-9.0" stroke="#1e9416"/>
<path d="M804.33 1196.0v-17.0" stroke="#e82e28"/>
<path d="M805.22 1196.0v-20.5" stroke="#1e9416"/>
<path d="M806.10 1196.0v-16.2M806.98 1196.0v-42.0M807.87 1196.0v-13.0" stroke="#e82e28"/>
<path d="M808.75 1196.0v-12.5M809.63 1196.0v-14.0M810.52 1196.0v-30.0" stroke="#1e9416"/>
<path d="M811.40 1196.0v-16.3" stroke="#e82e28"/>
<path d="M812.28 1196.0v-23.0" stroke="#1e9416"/>
<path d="M813.17 1196.0v-10.9" stroke="#e82e28"/>
<path d="M814.05 1196.0v-11.0M814.93 1196.0v-6.2M815.82 1196.0v-7.8" stroke="#1e9416"/>
<path d="M816.70 1196.0v-4.5M817.58 1196.0v-8.0" stroke="#e82e28"/>
<path d="M818.47 1196.0v-5.4M819.35 1196.0v-11.9" stroke="#1e9416"/>
<path d="M820.23 1196.0v-14.3M821.12 1196.0v-14.7M822.00 1196.0v-27.0M822.88 1196.0v-23.3" stroke="#e82e28"/>
<path d="M823.77 1196.0v-25.0M824.65 1196.0v-29.7" stroke="#1e9416"/>
<path d="M825.53 1196.0v-22.6M826.42 1196.0v-45.0" stroke="#e82e28"/>
<path d="M827.30 1196.0v-30.0M828.18 1196.0v-27.0" stroke="#1e9416"/>
<path d="M829.07 1196.0v-15.1M829.95 1196.0v-11.8M830.83 1196.0v-19.0" stroke="#e82e28"/>
<path d="M831.72 1196.0v-15.8" stroke="#1e9416"/>
<path d="M832.60 1196.0v-25.0M833.48 1196.0v-18.3M834.37 1196.0v-11.2M835.25 1196.0v-13.0" stroke="#e82e28"/>
<path d="M836.13 1196.0v-7.0M837.02 1196.0v-10.6" stroke="#1e9416"/>
<path d="M837.90 1196.0v-7.4M838.78 1196.0v-14.0M839.67 1196.0v-17.1M840.55 1196.0v-12.8M841.43 1196.0v-26.4M842.32 1196.0v-34.0M843.20 1196.0v-15.6M844.08 1196.0v-22.0" stroke="#e82e28"/>
<path d="M844.97 1196.0v-18.5M845.85 1196.0v-25.0M846.73 1196.0v-11.7M847.62 1196.0v-10.0" stroke="#1e9416"/>
<path d="M848.50 1196.0v-9.1M849.38 1196.0v-9.0M850.27 1196.0v-5.1" stroke="#e82e28"/>
<path d="M851.15 1196.0v-7.2" stroke="#1e9416"/>
<path d="M852.03 1196.0v-7.0" stroke="#e82e28"/>
<path d="M852.92 1196.0v-3.7" stroke="#1e9416"/>
<path d="M853.80 1196.0v-3.9M854.68 1196.0v-8.0" stroke="#e82e28"/>
<path d="M855.57 1196.0v-8.5" stroke="#1e9416"/>
<path d="M856.45 1196.0v-10.0M857.33 1196.0v-25.2M858.22 1196.0v-45.0" stroke="#e82e28"/>
<path d="M859.10 1196.0v-28.4M859.98 1196.0v-57.0" stroke="#1e9416"/>
<path d="M860.87 1196.0v-16.2M861.75 1196.0v-17.0M862.63 1196.0v-13.3M863.52 1196.0v-23.0" stroke="#e82e28"/>
<path d="M864.40 1196.0v-16.8M865.28 1196.0v-22.7M866.17 1196.0v-30.0M867.05 1196.0v-34.0M867.93 1196.0v-34.0M868.82 1196.0v-50.0M869.70 1196.0v-26.2M870.58 1196.0v-22.0" stroke="#1e9416"/>
<path d="M871.47 1196.0v-41.0M872.35 1196.0v-41.0" stroke="#e82e28"/>
<path d="M873.23 1196.0v-33.0M874.12 1196.0v-12.5M875.00 1196.0v-13.0M875.88 1196.0v-13.0" stroke="#1e9416"/>
<path d="M876.77 1196.0v-9.0M877.65 1196.0v-14.0M878.53 1196.0v-17.0" stroke="#e82e28"/>
<path d="M879.42 1196.0v-12.5" stroke="#1e9416"/>
<path d="M880.30 1196.0v-17.0" stroke="#e82e28"/>
<path d="M881.18 1196.0v-14.1M882.07 1196.0v-24.0M882.95 1196.0v-16.0" stroke="#1e9416"/>
<path d="M883.83 1196.0v-17.0M884.72 1196.0v-20.0" stroke="#e82e28"/>
<path d="M885.60 1196.0v-19.3" stroke="#1e9416"/>
<path d="M886.48 1196.0v-65.0M887.37 1196.0v-41.0M888.25 1196.0v-34.6M889.13 1196.0v-37.0" stroke="#e82e28"/>
<path d="M890.02 1196.0v-21.3M890.90 1196.0v-22.0M891.78 1196.0v-33.0M892.67 1196.0v-15.5M893.55 1196.0v-14.0M894.43 1196.0v-14.0" stroke="#1e9416"/>
<path d="M895.32 1196.0v-9.0M896.20 1196.0v-8.1M897.08 1196.0v-22.0M897.97 1196.0v-9.0M898.85 1196.0v-9.0M899.73 1196.0v-14.0" stroke="#e82e28"/>
<path d="M900.62 1196.0v-10.0" stroke="#1e9416"/>
<path d="M901.50 1196.0v-10.0M902.38 1196.0v-8.0M903.27 1196.0v-11.0M904.15 1196.0v-7.1M905.03 1196.0v-7.8M905.92 1196.0v-10.0" stroke="#e82e28"/>
<path d="M906.80 1196.0v-8.9" stroke="#1e9416"/>
<path d="M907.68 1196.0v-12.0M908.57 1196.0v-5.4M909.45 1196.0v-9.0M910.33 1196.0v-8.7M911.22 1196.0v-83.0" stroke="#e82e28"/>
<path d="M912.10 1196.0v-42.0" stroke="#1e9416"/>
<path d="M912.98 1196.0v-16.9" stroke="#e82e28"/>
<path d="M913.87 1196.0v-10.0M914.75 1196.0v-4.9M915.63 1196.0v-11.0" stroke="#1e9416"/>
<path d="M916.52 1196.0v-4.5" stroke="#e82e28"/>
<path d="M917.40 1196.0v-5.0M918.28 1196.0v-13.5M919.17 1196.0v-22.0" stroke="#1e9416"/>
<path d="M920.05 1196.0v-20.0M920.93 1196.0v-8.1M921.82 1196.0v-12.0" stroke="#e82e28"/>
<path d="M922.70 1196.0v-6.8" stroke="#1e9416"/>
<path d="M923.58 1196.0v-8.0" stroke="#e82e28"/>
</g>
<circle cx="1026.5" cy="989.3" r="31.3" fill="#fdeee6"/>
<path d="M1025.2 975.4H1012.4V987.8M1012.9 975.9L1023.8 986.4M1028 1003.1H1040.5V991M1040 1002.6L1029.6 992.3" fill="none" stroke="#e0621f" stroke-width="2.6"/>
<text y="1238" font-size="37.5" fill="#999"><tspan x="76.4" textLength="13.3" lengthAdjust="spacingAndGlyphs">1</tspan><tspan x="91.0" textLength="13.3" lengthAdjust="spacingAndGlyphs">1</tspan><tspan x="107.0">/</tspan><tspan x="119.4" textLength="13.3" lengthAdjust="spacingAndGlyphs">1</tspan><tspan x="133.8">9</tspan></text>
<text y="1238" font-size="37.5" fill="#999"><tspan x="287.2" textLength="13.3" lengthAdjust="spacingAndGlyphs">1</tspan><tspan x="301.8" textLength="13.3" lengthAdjust="spacingAndGlyphs">1</tspan><tspan x="317.7 329.7 350.6">/20</tspan></text>
<text y="1238" font-size="37.5" fill="#999"><tspan x="499.7" textLength="13.3" lengthAdjust="spacingAndGlyphs">1</tspan><tspan x="514.1" textLength="13.3" lengthAdjust="spacingAndGlyphs">1</tspan><tspan x="529.9 541.8">/2</tspan><tspan x="562.8" textLength="13.3" lengthAdjust="spacingAndGlyphs">1</tspan></text>
<text y="1238" font-size="37.5" fill="#999"><tspan x="710.7" textLength="13.3" lengthAdjust="spacingAndGlyphs">1</tspan><tspan x="724.6" textLength="13.3" lengthAdjust="spacingAndGlyphs">1</tspan><tspan x="739.9 751.2 771.2">/24</tspan></text>
<text y="1238" font-size="37.5" fill="#999"><tspan x="922.4" textLength="13.3" lengthAdjust="spacingAndGlyphs">1</tspan><tspan x="936.9" textLength="13.3" lengthAdjust="spacingAndGlyphs">1</tspan><tspan x="952.7 964.7 985.4">/25</tspan></text>
<rect x="10.6" y="1250.7" width="1059.1000000000001" height="2" fill="#e2e2e2"/>
</svg>
</body></html>
